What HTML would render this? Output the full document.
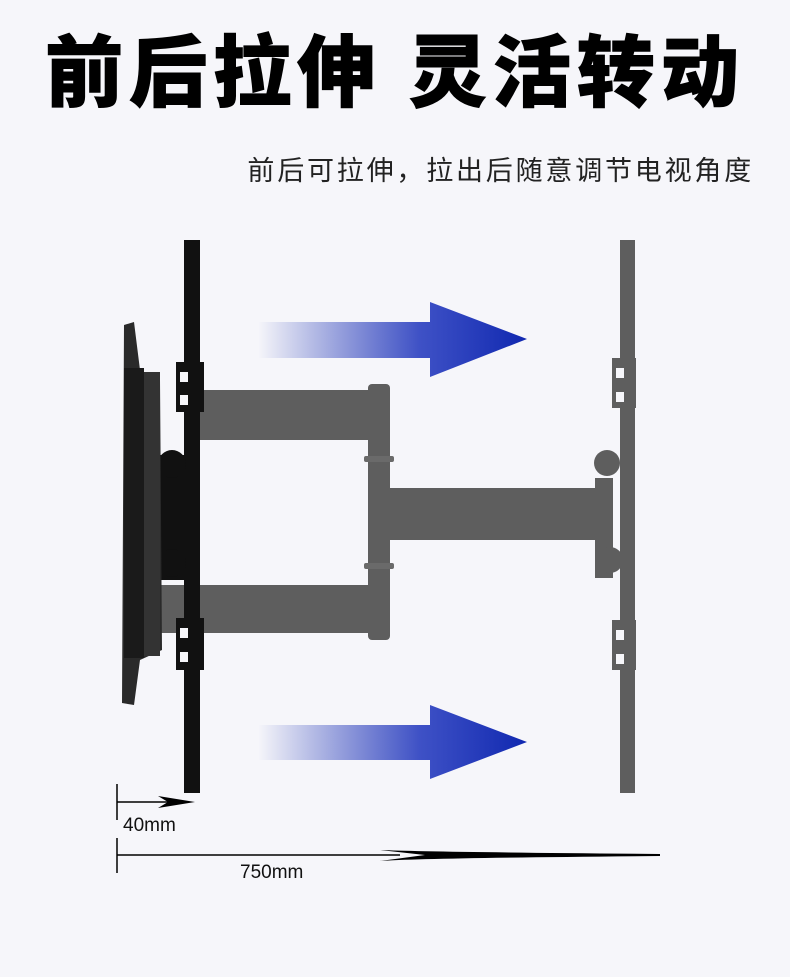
<!DOCTYPE html>
<html><head><meta charset="utf-8"><style>
html,body{margin:0;padding:0;background:#f6f6fa;}
svg{display:block}
</style></head><body>
<svg width="790" height="977" viewBox="0 0 790 977" xmlns="http://www.w3.org/2000/svg">
<defs>
<linearGradient id="ar" x1="0" x2="1" y1="0" y2="0">
<stop offset="0" stop-color="#1a2fb0" stop-opacity="0"/>
<stop offset="0.6" stop-color="#2a3fc0" stop-opacity="0.9"/>
<stop offset="1" stop-color="#1028b0"/>
</linearGradient>
</defs>
<rect width="790" height="977" fill="#f6f6fa"/>
<text x="395" y="100" text-anchor="middle" font-family="'Liberation Sans','Noto Sans CJK SC',sans-serif" font-weight="900" font-size="78" fill="#000" letter-spacing="6" stroke="#000" stroke-width="1">前后拉伸  灵活转动</text>
<text x="754" y="180" text-anchor="end" font-family="'Liberation Sans','Noto Sans CJK SC',sans-serif" font-size="27" fill="#222" letter-spacing="2.8">前后可拉伸，拉出后随意调节电视角度</text>

<!-- arrows -->
<path d="M258 322 H430 V302 L527 339 L430 377 V358 H258 Z" fill="url(#ar)"/>
<path d="M258 725 H430 V705 L527 742 L430 779 V760 H258 Z" fill="url(#ar)"/>

<!-- gray arms -->
<g fill="#5e5e5e">
<rect x="200" y="390" width="172" height="50"/>
<rect x="160" y="585" width="212" height="48"/>
<rect x="368" y="384" width="22" height="256" rx="4"/>
<rect x="364" y="456" width="30" height="6" rx="2" fill="#6a6a6a"/>
<rect x="364" y="563" width="30" height="6" rx="2" fill="#6a6a6a"/>
<rect x="385" y="488" width="215" height="52"/>
<rect x="595" y="478" width="18" height="100"/>
<circle cx="607" cy="463" r="13"/>
<circle cx="610" cy="560" r="13"/>
<rect x="620" y="240" width="15" height="553"/>
<rect x="612" y="358" width="24" height="50"/>
<rect x="612" y="620" width="24" height="50"/>
</g>
<g fill="#f6f6fa"><rect x="616" y="368" width="8" height="10"/><rect x="616" y="392" width="8" height="10"/><rect x="616" y="630" width="8" height="10"/><rect x="616" y="654" width="8" height="10"/></g>

<!-- left black plate & mount -->
<g fill="#111">
<rect x="184" y="240" width="16" height="553"/>
<rect x="176" y="362" width="28" height="50"/>
<rect x="176" y="618" width="28" height="52"/>
<path d="M155 455 H185 V580 H155 Z"/>
<circle cx="172" cy="464" r="14"/>
<circle cx="172" cy="563" r="14"/>
</g>
<g fill="#f6f6fa"><rect x="180" y="372" width="8" height="10"/><rect x="180" y="395" width="8" height="10"/><rect x="180" y="628" width="8" height="10"/><rect x="180" y="652" width="8" height="10"/></g>
<path d="M124 325 L134 322 L140 370 L160 380 L162 650 L140 660 L134 705 L122 703 Z" fill="#2a2a2a"/>
<rect x="124" y="368" width="20" height="290" fill="#1a1a1a"/>
<rect x="144" y="372" width="16" height="284" fill="#333"/>

<!-- dimension lines -->
<g stroke="#000" stroke-width="1.5" fill="none">
<line x1="117" y1="784" x2="117" y2="820"/>
<line x1="117" y1="802" x2="170" y2="802"/>
<line x1="117" y1="838" x2="117" y2="873"/>
<line x1="117" y1="855" x2="400" y2="855"/>
</g>
<path d="M158 796 L195 802 L158 808 L168 802 Z" fill="#000"/>
<path d="M380 850 Q420 852 660 854 L660 856 Q420 858 380 861 L425 855 Z" fill="#000"/>
<text x="123" y="831" font-family="'Liberation Sans',sans-serif" font-size="19" fill="#111">40mm</text>
<text x="240" y="878" font-family="'Liberation Sans',sans-serif" font-size="19" fill="#111">750mm</text>
</svg>
</body></html>
